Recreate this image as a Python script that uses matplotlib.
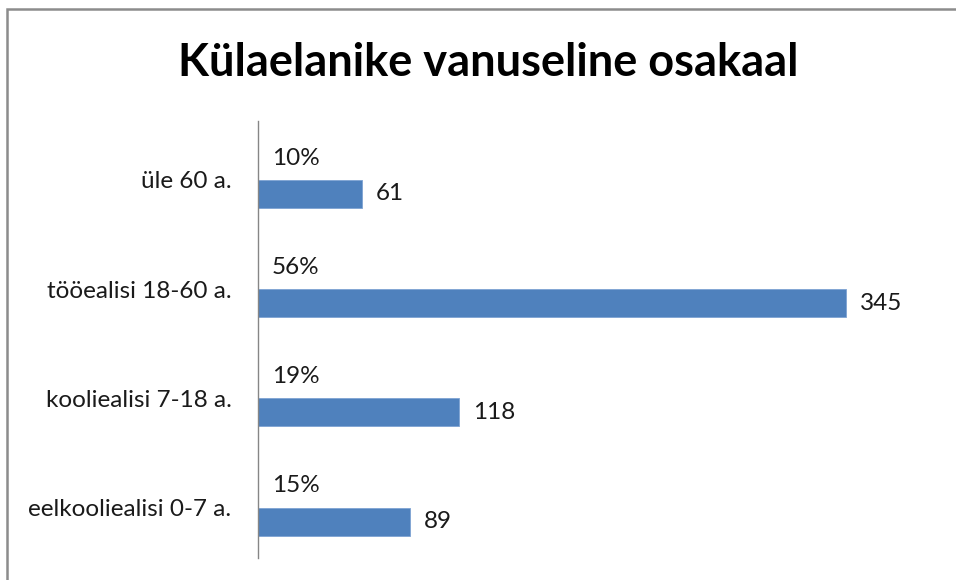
import matplotlib.pyplot as plt
from matplotlib.patches import Rectangle

plt.rcParams['font.family'] = ['Lato', 'DejaVu Sans']

categories = ["eelkooliealisi 0-7 a.", "kooliealisi 7-18 a.", "tööealisi 18-60 a.", "üle 60 a."]
counts = [89, 118, 345, 61]
shares = ["15%", "19%", "56%", "10%"]

W, H = 956, 580
fig = plt.figure(figsize=(W / 100, H / 100), dpi=100)

# chart area frame (gray border, runs off right/bottom edge)
fig.patches.append(Rectangle((7 / W, -0.05), 1.1, 1 - 9 / H + 0.05,
                             transform=fig.transFigure, fill=False,
                             edgecolor="#8c8c8c", linewidth=1.8))

ax = fig.add_axes([258 / W, 1 - 558 / H, (940 - 258) / W, (558 - 121) / H])
ax.set_xlim(0, 400)
ax.set_ylim(-0.46, 3.54)

bh = 0.256
y = list(range(len(categories)))
ax.barh([v - bh / 2 for v in y], counts, height=bh, color="#4F81BD",
        edgecolor="#7ea3d3", linewidth=0.6)

fs = 17.5
for yi, c, s in zip(y, counts, shares):
    ax.text(c + 8, yi - bh / 2, str(c), va="center", ha="left", fontsize=fs, color="#1a1a1a")
    ax.text(8, yi + 0.2, s, va="center", ha="left", fontsize=fs, color="#1a1a1a")

ax.set_yticks(y)
ax.set_yticklabels(categories, fontsize=fs, color="#1a1a1a")
ax.tick_params(axis="y", length=0, pad=19)
ax.set_xticks([])
for side in ["top", "right", "bottom"]:
    ax.spines[side].set_visible(False)
ax.spines["left"].set_color("#868686")
ax.spines["left"].set_linewidth(1.0)

fig.text(488 / W, 1 - 63 / H, "Külaelanike vanuseline osakaal", ha="center", va="center",
         fontsize=32.5, fontweight="bold", color="black")

fig.savefig("out.png", dpi=100)
